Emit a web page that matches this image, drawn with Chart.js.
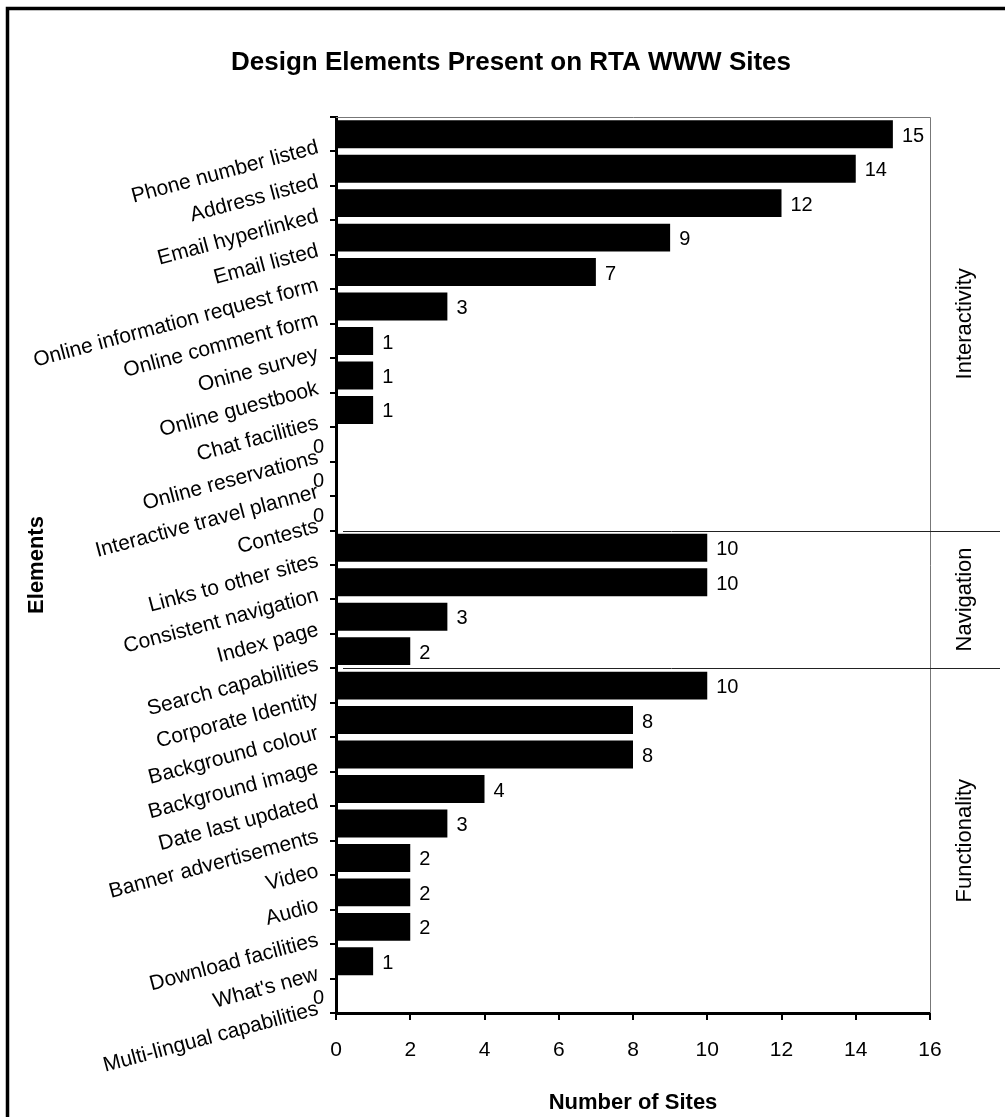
<!DOCTYPE html>
<html lang="en">
  <head>
    <meta charset="UTF-8" />
    <title>Design Elements Present on RTA WWW Sites</title>
    <script src="https://cdn.jsdelivr.net/npm/chart.js@4.4.1/dist/chart.umd.min.js"></script>
    <style>
      body { margin: 0; background: #fff; }
      #wrap { width: 1005px; height: 1117px; }
    </style>
  </head>
  <body>
    <div id="wrap"><canvas id="myChart"></canvas></div>

    <script>
      // values
      const elements = [
        'Phone number listed', 'Address listed', 'Email hyperlinked', 'Email listed',
        'Online information request form', 'Online comment form', 'Onine survey',
        'Online guestbook', 'Chat facilities', 'Online reservations',
        'Interactive travel planner', 'Contests',
        'Links to other sites', 'Consistent navigation', 'Index page', 'Search capabilities',
        'Corporate Identity', 'Background colour', 'Background image', 'Date last updated',
        'Banner advertisements', 'Video', 'Audio', 'Download facilities', "What's new",
        'Multi-lingual capabilities'
      ];
      const siteCounts = [15, 14, 12, 9, 7, 3, 1, 1, 1, 0, 0, 0,
                          10, 10, 3, 2,
                          10, 8, 8, 4, 3, 2, 2, 2, 1, 0];
      const groupNames = ['Interactivity', 'Navigation', 'Functionality'];
      const groupSizes = [12, 4, 10];
      const xTicks = [0, 2, 4, 6, 8, 10, 12, 14, 16];

      const FONT = '"Liberation Sans", Arial, Helvetica, sans-serif';
      Chart.defaults.font.family = FONT;
      Chart.defaults.color = '#000';

      const extras = {
        id: 'extras',
        beforeDraw(chart) {
          const ctx = chart.ctx;
          ctx.save();
          ctx.fillStyle = '#fff';
          ctx.fillRect(0, 0, chart.width, chart.height);
          ctx.restore();
        },
        afterDatasetsDraw(chart) {
          const ctx = chart.ctx;
          const meta = chart.getDatasetMeta(0);
          const x0 = chart.scales.x.getPixelForValue(0);
          ctx.save();
          ctx.font = '20px ' + FONT;
          ctx.fillStyle = '#000';
          ctx.textBaseline = 'middle';
          ctx.textAlign = 'left';
          meta.data.forEach((bar, i) => {
            const v = siteCounts[i];
            if (v > 0) ctx.fillText(String(v), bar.x + 9, bar.y + 2);
            else ctx.fillText(String(v), x0 - 23, bar.y + 3);
          });
          ctx.restore();
        },
        afterDraw(chart) {
          const ctx = chart.ctx;
          const a = chart.chartArea;
          const y = chart.scales.y;
          ctx.save();

          // thin plot frame, top and right
          ctx.strokeStyle = '#777';
          ctx.lineWidth = 1;
          ctx.beginPath();
          ctx.moveTo(a.left, a.top + 0.5);
          ctx.lineTo(a.right + 0.5, a.top + 0.5);
          ctx.lineTo(a.right + 0.5, a.bottom);
          ctx.stroke();

          // group separators and labels on the right
          const half = (y.getPixelForValue(1) - y.getPixelForValue(0)) / 2;
          let start = 0;
          ctx.font = '22px ' + FONT;
          ctx.fillStyle = '#000';
          ctx.textAlign = 'center';
          ctx.textBaseline = 'alphabetic';
          groupSizes.forEach((n, g) => {
            const top = y.getPixelForValue(start) - half;
            const bottom = y.getPixelForValue(start + n - 1) + half;
            if (g > 0) {
              ctx.strokeStyle = '#222';
              ctx.beginPath();
              ctx.moveTo(a.left + 7, Math.round(top) + 0.5);
              ctx.lineTo(1000, Math.round(top) + 0.5);
              ctx.stroke();
            }
            ctx.save();
            ctx.translate(971, (top + bottom) / 2);
            ctx.rotate(-Math.PI / 2);
            ctx.fillText(groupNames[g], 0, 0);
            ctx.restore();
            start += n;
          });

          // title
          ctx.font = 'bold 26px ' + FONT;
          ctx.textAlign = 'center';
          ctx.fillText('Design Elements Present on RTA WWW Sites', 511, 70);

          // outer frame
          ctx.strokeStyle = '#000';
          ctx.lineWidth = 3.5;
          ctx.strokeRect(7.5, 8.5, 1400, 1400);
          ctx.restore();
        }
      };

      const ctx = document.getElementById('myChart').getContext('2d');
      const myChart = new Chart(ctx, {
        type: 'bar',
        data: {
          labels: elements,
          datasets: [{
            data: siteCounts,
            backgroundColor: '#000',
            borderWidth: 0,
            barPercentage: 0.81,
            categoryPercentage: 1
          }]
        },
        options: {
          indexAxis: 'y',
          responsive: true,
          maintainAspectRatio: false,
          animation: false,
          layout: { padding: { top: 117, right: 75, bottom: 0, left: 0 } },
          plugins: {
            legend: { display: false },
            tooltip: { enabled: false }
          },
          scales: {
            x: {
              min: 0,
              max: 16,
              afterBuildTicks: (s) => { s.ticks = xTicks.map(v => ({ value: v })); },
              afterFit: (s) => { s.height = 104; s.paddingLeft = 0; s.paddingRight = 0; },
              ticks: { font: { size: 21 }, padding: 18, color: '#000' },
              grid: { drawOnChartArea: false, drawTicks: true, tickLength: 7, color: '#000', lineWidth: 2 },
              border: { display: true, color: '#000', width: 3 },
              title: {
                display: true,
                text: 'Number of Sites',
                font: { size: 22, weight: 'bold' },
                color: '#000',
                padding: { top: 0, bottom: 1 }
              }
            },
            y: {
              afterFit: (s) => { s.width = 336; s.paddingTop = 0; s.paddingBottom = 0; },
              ticks: {
                autoSkip: false,
                minRotation: 15,
                maxRotation: 15,
                labelOffset: 13,
                padding: 12,
                font: { size: 21 },
                color: '#000'
              },
              grid: { offset: true, drawOnChartArea: false, drawTicks: true, tickLength: 6, color: '#000', lineWidth: 2 },
              border: { display: true, color: '#000', width: 3 },
              title: {
                display: true,
                text: 'Elements',
                font: { size: 22, weight: 'bold' },
                color: '#000',
                padding: { top: 24, bottom: 0 }
              }
            }
          }
        },
        plugins: [extras]
      });
    </script>
  </body>
</html>
